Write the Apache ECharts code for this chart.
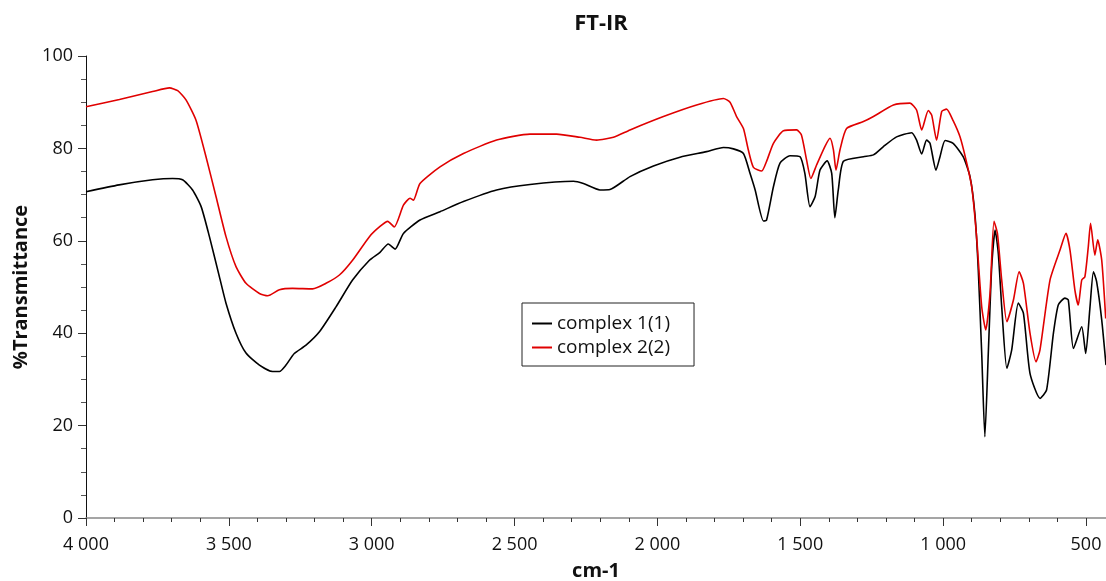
<!DOCTYPE html>
<html lang="en">
<head>
    <meta charset="UTF-8">
    <title>FT-IR</title>
    <script src="https://cdn.jsdelivr.net/npm/echarts@6/dist/echarts.min.js"></script>
    <style>
        body { margin: 0; background: #fff; }
        #main { width: 1106px; height: 581px; }
    </style>
</head>
<body>
    <div id="main"></div>
    <script>
        // wavenumber (cm-1) and %T
        const wn1 = [4000, 3884, 3767, 3697, 3662, 3627, 3597, 3568, 3533, 3510, 3475, 3440, 3393, 3347, 3323, 3300,
            3271, 3230, 3183, 3125, 3067, 3008, 2971, 2942, 2918, 2889, 2831, 2761, 2679, 2563, 2446, 2294, 2259,
            2201, 2166, 2096, 2014, 1921, 1828, 1769, 1734, 1699, 1676, 1658, 1629, 1618, 1594, 1571, 1536, 1501,
            1484, 1466, 1448, 1431, 1406, 1390, 1379, 1367, 1349, 1279, 1244, 1209, 1163, 1110, 1093, 1075, 1058,
            1046, 1025, 1011, 993, 965, 930, 906, 889, 877, 865, 854, 842, 830, 818, 807, 795, 777, 760, 737, 719,
            696, 661, 638, 614, 597, 574, 562, 544, 515, 501, 486, 474, 463, 445, 430]
        const t1 = [70.6, 72.1, 73.2, 73.5, 73.2, 71.0, 67.4, 60.9, 52.2, 46.5, 40.0, 35.7, 33.1, 31.7, 31.7, 33.1,
            35.6, 37.4, 40.3, 45.7, 51.5, 55.8, 57.5, 59.3, 58.2, 61.6, 64.5, 66.3, 68.5, 71.0, 72.2, 72.9, 72.4,
            71.0, 71.1, 73.9, 76.2, 78.1, 79.3, 80.2, 79.9, 78.9, 74.6, 71.0, 64.3, 64.5, 71.7, 76.8, 78.4, 78.2,
            74.6, 67.4, 69.6, 75.3, 77.3, 74.6, 65.0, 71.0, 77.2, 78.2, 78.6, 80.4, 82.5, 83.4, 81.8, 78.8, 81.8,
            81.1, 75.3, 78.2, 81.7, 81.1, 78.2, 73.9, 65.9, 53.7, 35.6, 17.6, 35.6, 54.4, 62.3, 57.3, 45.7, 32.4, 36.4, 46.5, 44.3,
            31.3, 25.9, 27.7, 40.0, 46.1, 47.6, 47.2, 36.7, 41.4, 35.6, 45.7, 53.3, 51.2, 42.9, 33.1]

        const wn2 = [4000, 3883, 3767, 3708, 3679, 3650, 3615, 3580, 3545, 3510, 3475, 3440, 3393, 3364, 3323, 3277,
            3207, 3160, 3113, 3067, 3008, 2971, 2944, 2921, 2889, 2866, 2854, 2831, 2761, 2679, 2563, 2446, 2353,
            2271, 2213, 2154, 2096, 1979, 1863, 1769, 1746, 1723, 1699, 1682, 1664, 1635, 1618, 1594, 1559, 1513,
            1496, 1478, 1463, 1443, 1414, 1396, 1384, 1375, 1361, 1338, 1279, 1244, 1174, 1116, 1093, 1075, 1052,
            1040, 1023, 1005, 988, 965, 941, 920, 900, 883, 865, 851, 836, 822, 810, 795, 777, 754, 734, 719, 696,
            675, 661, 626, 591, 570, 556, 539, 527, 515, 504, 492, 484, 469, 459, 445, 431]
        const t2 = [89.0, 90.6, 92.3, 93.1, 92.5, 90.5, 86.1, 78.2, 69.6, 60.9, 54.4, 50.8, 48.6, 48.1, 49.4, 49.7,
            49.6, 50.8, 52.6, 55.8, 60.9, 63.1, 64.2, 63.0, 67.7, 69.2, 68.8, 72.4, 76.0, 78.9, 81.8, 83.1, 83.1,
            82.4, 81.8, 82.4, 84.0, 86.9, 89.4, 90.8, 90.0, 86.9, 84.3, 79.7, 75.9, 75.1, 77.2, 81.1, 83.8, 84.0,
            82.9, 77.5, 73.5, 76.4, 80.4, 82.2, 79.7, 75.3, 79.7, 84.3, 85.8, 86.9, 89.4, 89.8, 88.3, 84.0, 88.2,
            87.2, 81.8, 88.0, 88.5, 86.0, 82.5, 77.5, 71.7, 60.9, 45.7, 40.7, 48.6, 64.2, 61.6, 51.5, 42.5, 47.2, 53.3, 50.8, 40.0,
            33.8, 36.4, 51.5, 58.0, 61.6, 58.0, 49.4, 46.1, 51.5, 52.2, 58.7, 63.8, 56.9, 60.2, 55.8, 43.2]

        const seriesNames = ['complex 1(1)', 'complex 2(2)']
        const xMajor = [500, 1000, 1500, 2000, 2500, 3000, 3500, 4000]
        const xMinor = []
        for (let v = 500; v <= 4000; v += 100) {
            xMinor.push(v)
        }

        const pairs = (xs, ys) => xs.map((x, i) => [x, ys[i]])

        // 4000 -> "4 000"
        const fmtNum = (v) => {
            if (v >= 1000) {
                let rest = String(v % 1000).padStart(3, '0')
                return Math.floor(v / 1000) + ' ' + rest
            }
            return String(v)
        }

        const font = 'Open Sans'
        var myChart = echarts.init(document.querySelector('#main'))

        var option = {
            backgroundColor: '#fff',
            animation: false,
            title: {
                text: 'FT-IR',
                left: 596,
                top: 8,
                textAlign: 'center',
                textStyle: { fontFamily: font, fontSize: 22, fontWeight: 'bold', color: '#111' }
            },
            legend: {
                data: seriesNames,
                orient: 'vertical',
                left: 522,
                top: 303,
                padding: [11, 24, 9, 10],
                itemGap: 5,
                itemWidth: 20,
                itemHeight: 2,
                icon: 'rect',
                borderColor: '#222',
                borderWidth: 1,
                borderRadius: 0,
                textStyle: { fontFamily: font, fontSize: 19, color: '#111' }
            },
            grid: { left: 86, right: 0, top: 56, bottom: 63, containLabel: false, outerBoundsMode: 'none' },
            xAxis: [
                {
                    type: 'value',
                    inverse: true,
                    min: 430,
                    max: 4000,
                    name: 'cm-1',
                    nameLocation: 'middle',
                    nameGap: 43,
                    nameTextStyle: { fontFamily: font, fontSize: 20, fontWeight: 'bold', color: '#111' },
                    axisLine: { show: true, lineStyle: { color: '#888', width: 1.5 } },
                    axisTick: { show: true, length: 8, customValues: xMajor, lineStyle: { color: '#333' } },
                    axisLabel: {
                        customValues: xMajor,
                        formatter: fmtNum,
                        margin: 18,
                        fontFamily: font, fontSize: 18, color: '#111'
                    },
                    splitLine: { show: false }
                },
                {
                    type: 'value',
                    inverse: true,
                    min: 430,
                    max: 4000,
                    position: 'bottom',
                    axisLine: { show: false },
                    axisTick: { show: true, length: 4, customValues: xMinor, lineStyle: { color: '#333' } },
                    axisLabel: { show: false },
                    splitLine: { show: false }
                }
            ],
            yAxis: {
                type: 'value',
                min: 0,
                max: 100,
                interval: 20,
                name: '%Transmittance',
                nameLocation: 'middle',
                nameGap: 54,
                nameTextStyle: { fontFamily: font, fontSize: 20, fontWeight: 'bold', color: '#111' },
                axisLine: { show: true, lineStyle: { color: '#111', width: 1 } },
                axisTick: { show: true, length: 8, lineStyle: { color: '#333' } },
                minorTick: { show: true, splitNumber: 4, length: 5, lineStyle: { color: '#555' } },
                axisLabel: { margin: 13, fontFamily: font, fontSize: 18, color: '#111' },
                splitLine: { show: false }
            },
            series: [
                {
                    name: seriesNames[0],
                    type: 'line',
                    data: pairs(wn1, t1),
                    showSymbol: false,
                    symbol: 'none',
                    smooth: 0.2,
                    lineStyle: { color: '#000', width: 1.6 },
                    itemStyle: { color: '#000' }
                },
                {
                    name: seriesNames[1],
                    type: 'line',
                    data: pairs(wn2, t2),
                    showSymbol: false,
                    symbol: 'none',
                    smooth: 0.2,
                    lineStyle: { color: '#e00000', width: 1.6 },
                    itemStyle: { color: '#e00000' }
                }
            ]
        }

        myChart.setOption(option)
    </script>
</body>
</html>
